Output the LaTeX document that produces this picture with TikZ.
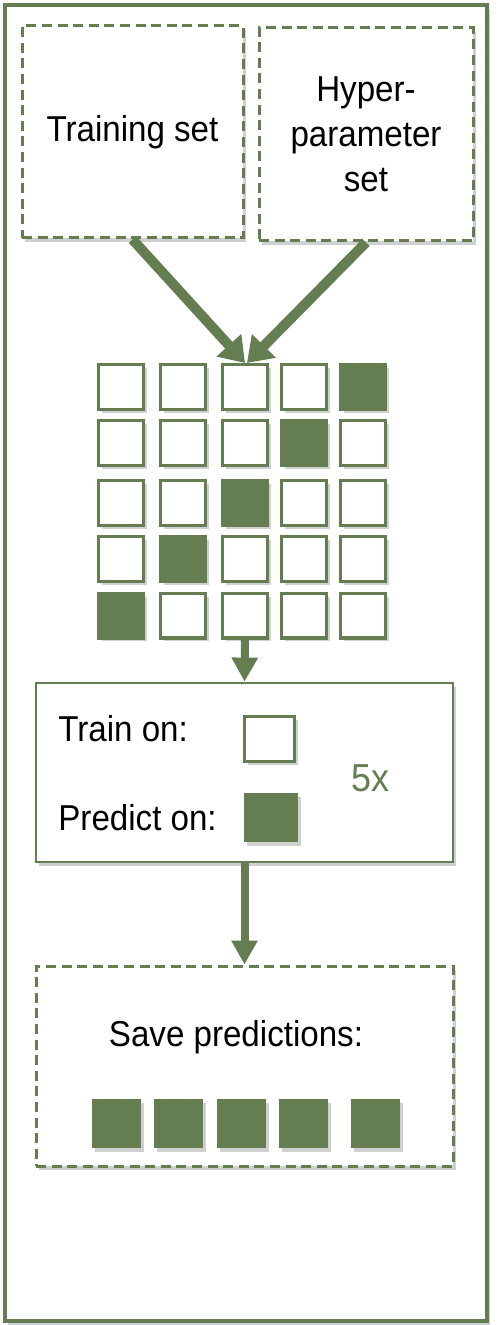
\documentclass[tikz,border=0pt]{standalone}
\usepackage{fontspec}
\setmainfont{Liberation Sans}[FakeStretch=0.92]
\usetikzlibrary{arrows.meta,shadows}
\definecolor{leaf}{RGB}{100,126,82}
\tikzset{
  shad/.style={drop shadow={shadow xshift=1.6pt,shadow yshift=-1.8pt,opacity=0.3,fill=black!60}},
  dashbox/.style={draw=leaf,line width=1.5pt,dash pattern=on 5pt off 2.8pt,fill=white,shad,inner sep=0pt},
  solidbox/.style={draw=leaf,line width=1.4pt,fill=white,shad,inner sep=0pt},
  cellw/.style={draw=leaf,line width=1.7pt,fill=white,minimum size=22.3pt,inner sep=0pt,shad},
  cellf/.style={draw=leaf,line width=1.7pt,fill=leaf,minimum size=22.3pt,inner sep=0pt,shad},
  predbox/.style={fill=leaf,minimum size=24.5pt,inner sep=0pt,shad},
  txt/.style={font=\fontsize{18}{22.5}\selectfont,inner sep=0pt},
  fatarrow/.style={draw=leaf,line width=5pt,-{Triangle[width=16pt,length=12pt]}},
  thinarrow/.style={draw=leaf,line width=4pt,-{Triangle[width=12.5pt,length=12pt]}}
}
\begin{document}
\begin{tikzpicture}[x=0.5pt,y=-0.5pt]
\useasboundingbox (0,0) rectangle (500,1325);
% outer frame
\node[solidbox,line width=1.6pt,fill=white,minimum width=241pt,minimum height=658pt] (frame) at (246,663) {};
% top boxes
\node[dashbox,minimum width=110.5pt,minimum height=106pt] (ts) at (132.5,132) {};
\node[txt] (tstext) at (ts.center) {Training set};
\node[dashbox,minimum width=107pt,minimum height=106.5pt] (hp) at (366,134.5) {};
\node[txt,align=center] (hptext) at (hp.center) {Hyper-\\parameter\\set};
% grid
\foreach \r/\y in {1/387,2/443,3/503,4/559,5/615.5}{
  \foreach \c/\x in {1/121,2/183,3/245,4/304,5/363}{
    \pgfmathtruncatemacro{\s}{\r+\c}
    \ifnum\s=6
      \node[cellf] (g\r\c) at (\x,\y) {};
    \else
      \node[cellw] (g\r\c) at (\x,\y) {};
    \fi
  }
}
% arrows into grid
\draw[fatarrow] (ts.south) -- (g13.north);
\draw[fatarrow] (hp.south) -- ([xshift=1pt]g13.north);
% train box
\node[solidbox,minimum width=208.5pt,minimum height=89.5pt] (tb) at (244.5,772.5) {};
\node[txt,anchor=base west] (trainon) at (58,741) {Train on:};
\node[txt,anchor=base west] (predon) at (58,830) {Predict on:};
\node[draw=leaf,line width=1.5pt,fill=white,minimum width=25pt,minimum height=22.5pt,inner sep=0pt,shad] (wsq) at (269.5,738.5) {};
\node[fill=leaf,minimum width=27pt,minimum height=24.5pt,inner sep=0pt,shad] (fsq) at (271,817.5) {};
\node[txt,text=leaf,font=\fontsize{19.5}{22}\selectfont,anchor=base] (five) at (370,791) {5x};
\draw[thinarrow] (g53.south) -- (tb.north);
% save box
\node[dashbox,minimum width=208.5pt,minimum height=100pt] (sb) at (244.5,1066) {};
\node[txt,anchor=base] (savetext) at (236,1046) {Save predictions:};
\foreach \i/\x in {1/116.5,2/178.5,3/241.5,4/303.5,5/375}{
  \node[predbox] (p\i) at (\x,1123.5) {};
}
\draw[thinarrow] (tb.south) -- (sb.north);
\end{tikzpicture}
\end{document}
